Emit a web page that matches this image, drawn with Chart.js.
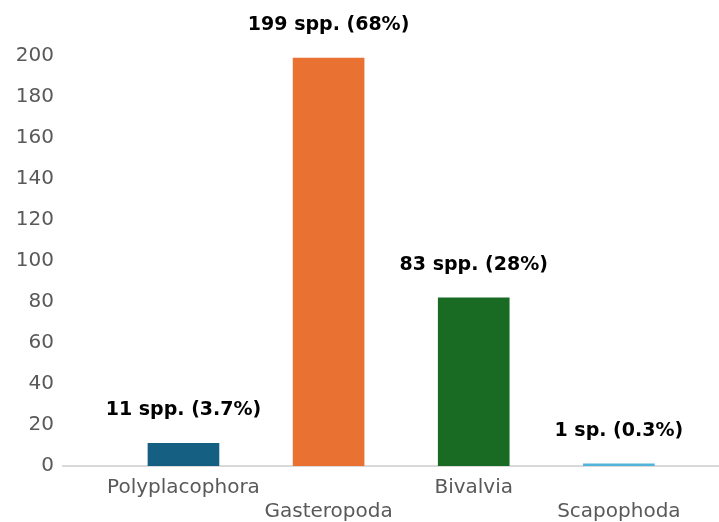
<!DOCTYPE html>
<html>
<head>
<meta charset="utf-8">
<script src="https://cdn.jsdelivr.net/npm/chart.js@4"></script>
<style>
  html, body { margin: 0; padding: 0; background: #ffffff; }
  #wrap { width: 719px; height: 522px; }
</style>
</head>
<body>
<div id="wrap"><canvas id="c" width="719" height="522"></canvas></div>
<script>
const categories = ['Polyplacophora', 'Gasteropoda', 'Bivalvia', 'Scapophoda'];
const speciesCounts = [11, 199, 82, 1];
const barLabels = ['11 spp. (3.7%)', '199 spp. (68%)', '83 spp. (28%)', '1 sp. (0.3%)'];
const barColors = ['#156082', '#E97132', '#196B24', '#52B3DB'];
const yMin = 0, yMax = 200, yStep = 20;

Chart.defaults.font.family = "'DejaVu Sans', sans-serif";

const valueLabelPlugin = {
  id: 'valueLabels',
  afterDatasetsDraw(chart) {
    const ctx = chart.ctx;
    const meta = chart.getDatasetMeta(0);
    ctx.save();
    ctx.font = "bold 19px 'DejaVu Sans', sans-serif";
    ctx.fillStyle = '#000000';
    ctx.textAlign = 'center';
    ctx.textBaseline = 'alphabetic';
    meta.data.forEach((bar, i) => {
      ctx.fillText(barLabels[i], bar.x, bar.y - 28);
    });
    ctx.restore();
  }
};

new Chart(document.getElementById('c'), {
  type: 'bar',
  data: {
    datasets: [{
      data: speciesCounts.map((v, i) => ({ x: i, y: v })),
      backgroundColor: barColors,
      borderWidth: 0,
      barThickness: 71
    }]
  },
  options: {
    responsive: false,
    animation: false,
    layout: { padding: { top: 56, right: 0, bottom: 0, left: 0 } },
    plugins: { legend: { display: false }, tooltip: { enabled: false } },
    scales: {
      x: {
        type: 'linear',
        offset: false,
        min: -0.83,
        max: 3.69,
        grid: { display: false, offset: false },
        border: { display: true, color: '#d9d9d9', width: 2 },
        afterBuildTicks(scale) {
          scale.ticks = categories.map((c, i) => ({ value: i }));
        },
        afterFit(scale) { scale.height = 56; },
        ticks: {
          autoSkip: false,
          maxRotation: 0,
          padding: 2,
          color: '#595959',
          font: { size: 20 },
          callback(value) {
            const i = Math.round(value);
            return i % 2 ? ['', categories[i]] : categories[i];
          }
        }
      },
      y: {
        min: yMin,
        max: yMax,
        grid: { display: false },
        border: { display: false },
        afterFit(scale) { scale.width = 63; },
        ticks: {
          stepSize: yStep,
          padding: 1,
          color: '#595959',
          font: { size: 20 }
        }
      }
    }
  },
  plugins: [valueLabelPlugin]
});
</script>
</body>
</html>
